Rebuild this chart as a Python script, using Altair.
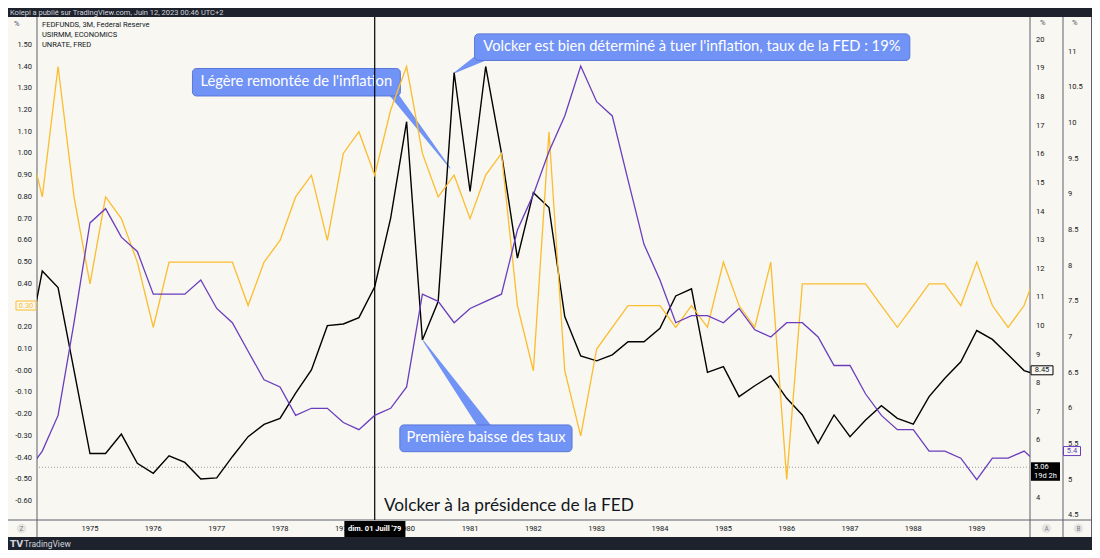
import altair as alt
import pandas as pd

# ---------------- data (quarterly, 1974Q1 .. 1990Q1) ----------------
dates = pd.date_range("1974-01-01", "1990-01-01", freq="QS").strftime("%Y-%m-%d").tolist()

fedfunds = [9.10, 11.92, 11.34, 8.45,
            5.54, 5.54, 6.22, 5.20,
            4.85, 5.46, 5.23, 4.65,
            4.69, 5.43, 6.13, 6.56,
            6.77, 7.65, 8.46, 10.01,
            10.07, 10.29, 11.37, 13.77,
            17.14, 9.51, 10.85, 18.86,
            14.70, 19.07, 16.04, 12.37,
            14.66, 14.14, 10.33, 8.95,
            8.78, 8.99, 9.45, 9.45,
            9.92, 11.05, 11.30, 8.38,
            8.58, 7.53, 7.91, 8.26,
            7.47, 6.89, 5.90, 6.89,
            6.13, 6.71, 7.21, 6.77,
            6.57, 7.53, 8.17, 8.75,
            9.84, 9.53, 8.99, 8.44,
            8.25]

usirmm = [1.10, 0.80, 1.40, 0.80,
          0.40, 0.80, 0.70, 0.50,
          0.20, 0.50, 0.50, 0.50,
          0.50, 0.50, 0.30, 0.50,
          0.60, 0.80, 0.90, 0.60,
          1.00, 1.10, 0.90, 1.20,
          1.40, 1.00, 0.80, 0.90,
          0.70, 0.90, 1.00, 0.30,
          0.00, 1.10, 0.00, -0.30,
          0.10, 0.20, 0.30, 0.30,
          0.30, 0.20, 0.30, 0.20,
          0.50, 0.30, 0.20, 0.50,
          -0.50, 0.40, 0.40, 0.40,
          0.40, 0.40, 0.30, 0.20,
          0.30, 0.40, 0.40, 0.30,
          0.50, 0.30, 0.20, 0.30,
          0.50]

unrate = [5.1, 5.4, 5.9, 7.2,
          8.6, 8.8, 8.4, 8.2,
          7.6, 7.6, 7.6, 7.8,
          7.4, 7.2, 6.8, 6.4,
          6.3, 5.9, 6.0, 6.0,
          5.8, 5.7, 5.9, 6.0,
          6.3, 7.6, 7.5, 7.2,
          7.4, 7.5, 7.6, 8.5,
          9.0, 9.6, 10.1, 10.8,
          10.3, 10.1, 9.2, 8.3,
          7.8, 7.2, 7.3, 7.3,
          7.2, 7.4, 7.1, 7.0,
          7.2, 7.2, 7.0, 6.6,
          6.6, 6.2, 5.9, 5.7,
          5.7, 5.4, 5.4, 5.3,
          5.0, 5.3, 5.3, 5.4,
          5.2]

# tick values and their labels (as printed on the chart)
left_ticks = [-0.6, -0.5, -0.4, -0.3, -0.2, -0.1, 0.0, 0.1, 0.2, 0.3, 0.4,
              0.5, 0.6, 0.7, 0.8, 0.9, 1.0, 1.1, 1.2, 1.3, 1.4, 1.5]
left_labels = ["-0.60", "-0.50", "-0.40", "-0.30", "-0.20", "-0.10", "-0.00", "0.10", "0.20",
               "0.30", "0.40", "0.50", "0.60", "0.70", "0.80", "0.90", "1.00", "1.10", "1.20",
               "1.30", "1.40", "1.50"]
fed_ticks = [4, 6, 7, 8, 9, 10, 11, 12, 13, 14, 15, 16, 17, 18, 19, 20]
fed_labels = ["4", "6", "7", "8", "9", "10", "11", "12", "13", "14", "15", "16", "17", "18", "19", "20"]
un_ticks = [4.5, 5, 5.5, 6, 6.5, 7, 7.5, 8, 8.5, 9, 9.5, 10, 10.5, 11]
un_labels = ["4.5", "5", "5.5", "6", "6.5", "7", "7.5", "8", "8.5", "9", "9.5", "10", "10.5", "11"]
year_ticks = ["1975-01-01", "1976-01-01", "1977-01-01", "1978-01-01", "1979-01-01", "1980-01-01",
              "1981-01-01", "1982-01-01", "1983-01-01", "1984-01-01", "1985-01-01", "1986-01-01",
              "1987-01-01", "1988-01-01", "1989-01-01"]
year_labels = ["1975", "1976", "1977", "1978", "1979", "1980", "1981", "1982", "1983", "1984",
               "1985", "1986", "1987", "1988", "1989"]

# annotations (anchored in time / FEDFUNDS scale)
call_x1 = ["1976-08-14", "1981-01-27", "1979-11-23"]
call_x2 = ["1979-11-26", "1987-12-12", "1982-08-12"]
call_y1 = [19.00, 20.21, 6.54]
call_y2 = [18.04, 19.28, 5.605]
call_tx = ["1978-04-05", "1984-07-03", "1981-04-03"]
call_ty = [18.53, 19.74, 6.07]
call_text = ["Légère remontée de l'inflation",
             "Volcker est bien déterminé à tuer l'inflation, taux de la FED : 19%",
             "Première baisse des taux"]
tail_id = ["a", "a", "b", "b", "c", "c"]
tail_date = ["1979-10-08", "1980-09-07", "1981-03-11", "1980-10-06", "1981-04-09", "1980-04-07"]
tail_val = [18.18, 15.52, 19.41, 18.86, 6.36, 9.475]
tail_w = [8, 1, 10, 1, 12, 1]
tail_o = [0, 1, 0, 1, 0, 1]

volcker_date = "1979-07-01"

df = pd.DataFrame({"date": dates, "fedfunds": fedfunds, "usirmm": usirmm, "unrate": unrate})
calls = pd.DataFrame({"x1": call_x1, "x2": call_x2, "y1": call_y1, "y2": call_y2})
call_lbl = pd.DataFrame({"d": call_tx, "v": call_ty, "t": call_text})
tails = pd.DataFrame({"id": tail_id, "d": tail_date, "v": tail_val, "w": tail_w, "o": tail_o})
vline = pd.DataFrame({"d": [volcker_date]})
ONE = pd.DataFrame({"k": [0]})

# ---------------- style ----------------
PANEL = "#f8f7f2"
DARK = "#1e222d"
SEP = "#5d606b"
YEL = "#fbbd2e"
PUR = "#6a3dbd"
BLK = "#131722"
CALL = "#7193f5"
CALL_S = "#5878d8"
FONT = "Lato"
AXF = "Roboto"
W, H = 993, 503

x_scale = alt.Scale(type="utc", domain=[alt.DateTime(year=1974, month=3, date=1, hours=12, utc=True),
                                        alt.DateTime(year=1989, month=11, date=4, utc=True)])
L_scale = alt.Scale(domain=[-0.687, 1.628], nice=False, zero=False)
A_scale = alt.Scale(domain=[3.217, 20.80], nice=False, zero=False)
B_scale = alt.Scale(domain=[4.433, 11.488], nice=False, zero=False)

X = alt.X("date:T", scale=x_scale, axis=None)


def label(s, x, y, size=7.5, color=BLK, align="left", font=AXF, weight="normal"):
    return alt.Chart(ONE).mark_text(text=s, fontSize=size, color=color, align=align,
                                    baseline="middle", font=font, fontWeight=weight).encode(
        x=alt.value(x), y=alt.value(y))


def rule(x1, y1, x2, y2, color=SEP, w=1):
    return alt.Chart(ONE).mark_rule(color=color, strokeWidth=w).encode(
        x=alt.value(x1), y=alt.value(y1), x2=alt.value(x2), y2=alt.value(y2))


def box(x1, y1, x2, y2, fill):
    return alt.Chart(ONE).mark_rect(fill=fill).encode(
        x=alt.value(x1), x2=alt.value(x2), y=alt.value(y1), y2=alt.value(y2))


def value_tag(scale, v, text, x1, x2, fill, stroke, tcolor, up=4.5, down=4.5):
    d = pd.DataFrame({"v": [v], "t": [text]})
    r = alt.Chart(d).mark_rect(fill=fill, stroke=stroke, strokeWidth=1, yOffset=-up, y2Offset=down).encode(
        x=alt.value(x1), x2=alt.value(x2), y=alt.Y("v:Q", scale=scale, axis=None), y2="v:Q")
    t = alt.Chart(d).mark_text(color=tcolor, fontSize=7.5, font=AXF, baseline="middle", align="center").encode(
        x=alt.value((x1 + x2) / 2), y=alt.Y("v:Q", scale=scale, axis=None), text="t:N")
    return r + t


def y_tick_labels(scale, ticks, labels, x, align):
    d = pd.DataFrame({"v": ticks, "t": labels})
    return alt.Chart(d).mark_text(fontSize=7.5, font=AXF, color=BLK, align=align, baseline="middle").encode(
        x=alt.value(x), y=alt.Y("v:Q", scale=scale, axis=None), text="t:N")


# ---------------- FEDFUNDS group (right scale A) ----------------
dotted = alt.Chart(pd.DataFrame({"v": [5.06]})).mark_rule(color="#9a9ca3", strokeDash=[1, 2]).encode(
    y=alt.Y("v:Q", scale=A_scale, axis=None))

tail_marks = alt.Chart(tails).mark_trail(color=CALL).encode(
    x=alt.X("d:T", scale=x_scale, axis=None),
    y=alt.Y("v:Q", scale=A_scale, axis=None),
    size=alt.Size("w:Q", scale=None, legend=None),
    detail="id:N", order="o:Q")

call_rects = alt.Chart(calls).mark_rect(fill=CALL, stroke=CALL_S, strokeWidth=1, cornerRadius=4).encode(
    x=alt.X("x1:T", scale=x_scale, axis=None), x2="x2:T",
    y=alt.Y("y1:Q", scale=A_scale, axis=None), y2="y2:Q")

call_texts = alt.Chart(call_lbl).mark_text(color="white", fontSize=14.7, font=FONT, baseline="middle",
                                           align="center").encode(
    x=alt.X("d:T", scale=x_scale, axis=None),
    y=alt.Y("v:Q", scale=A_scale, axis=None), text="t:N")

vrule = alt.Chart(vline).mark_rule(color="#000000", strokeWidth=1.2).encode(
    x=alt.X("d:T", scale=x_scale, axis=None))

year_lbls = alt.Chart(pd.DataFrame({"d": year_ticks, "t": year_labels})).mark_text(
    fontSize=7.5, font=AXF, color=BLK, align="center", baseline="middle").encode(
    x=alt.X("d:T", scale=x_scale, axis=None), y=alt.value(511.5), text="t:N")

date_box = alt.Chart(pd.DataFrame({"a": ["1979-01-07"], "b": ["1979-12-25"]})).mark_rect(fill="#000000").encode(
    x=alt.X("a:T", scale=x_scale, axis=None), x2="b:T", y=alt.value(504), y2=alt.value(520))
date_txt = alt.Chart(vline).mark_text(text="dim. 01 Juill '79", color="white", fontSize=7.5, font=AXF,
                                      fontWeight="bold", baseline="middle").encode(
    x=alt.X("d:T", scale=x_scale, axis=None), y=alt.value(512))

volcker_txt = alt.Chart(pd.DataFrame({"d": ["1979-08-23"], "v": [3.706]})).mark_text(
    text="Volcker à la présidence de la FED", color=BLK, fontSize=17.3, font=FONT, align="left",
    baseline="middle").encode(x=alt.X("d:T", scale=x_scale, axis=None),
                              y=alt.Y("v:Q", scale=A_scale, axis=None))

fed_line = alt.Chart(df).mark_line(color="#000000", strokeWidth=1.4, clip=True).encode(
    x=X, y=alt.Y("fedfunds:Q", scale=A_scale, axis=None))

tag845 = value_tag(A_scale, 8.45, "8.45", 994, 1016, PANEL, "#000000", BLK)
tag506_box = alt.Chart(pd.DataFrame({"v": [5.06]})).mark_rect(fill="#000000", yOffset=-5, y2Offset=13.5).encode(
    x=alt.value(994), x2=alt.value(1023), y=alt.Y("v:Q", scale=A_scale, axis=None), y2="v:Q")
tag506_t1 = alt.Chart(pd.DataFrame({"v": [5.06]})).mark_text(text="5.06", color="white", fontSize=7.5, font=AXF,
                                                            align="left", baseline="middle", dy=0).encode(
    x=alt.value(997), y=alt.Y("v:Q", scale=A_scale, axis=None))
tag506_t2 = alt.Chart(pd.DataFrame({"v": [5.06]})).mark_text(text="19d 2h", color="white", fontSize=7.5, font=AXF,
                                                            align="left", baseline="middle", dy=8.5).encode(
    x=alt.value(997), y=alt.Y("v:Q", scale=A_scale, axis=None))

decor = [
    box(-29, -9, 1055, 0, DARK),
    box(-29, 520, 1055, 533, DARK),
    rule(0, 0, 0, 520), rule(993, 0, 993, 520), rule(1026, 0, 1026, 520), rule(1054.5, 0, 1054.5, 520),
    rule(-29, 503, 1055, 503),
]

texts = [
    label("Kolepi a publié sur TradingView.com, Juin 12, 2023 00:46 UTC+2", -27, -4.5, size=7.5, color="#d1d4dc"),
    label("FEDFUNDS, 3M, Federal Reserve", 5, 8),
    label("USIRMM, ECONOMICS", 5, 17.7),
    label("UNRATE, FRED", 5, 27.7),
    label("%", -23, 7, color="#50535e"),
    label("%", 1003, 6, color="#50535e"),
    label("%", 1035, 6, color="#50535e"),
    alt.Chart(ONE).mark_point(filled=True, size=95, color="#e6e5e1", opacity=1).encode(
        x=alt.value(-15.5), y=alt.value(511.5)),
    alt.Chart(ONE).mark_point(filled=True, size=95, color="#e6e5e1", opacity=1).encode(
        x=alt.value(1009.5), y=alt.value(511.5)),
    alt.Chart(ONE).mark_point(filled=True, size=95, color="#e6e5e1", opacity=1).encode(
        x=alt.value(1041.5), y=alt.value(511.5)),
    label("Z", -15.5, 511.5, size=6.5, color="#787b86", align="center"),
    label("A", 1009.5, 511.5, size=6.5, color="#787b86", align="center"),
    label("B", 1041.5, 511.5, size=6.5, color="#787b86", align="center"),
    label("TV", -27, 527, size=9, color="#d1d4dc", weight="bold", font="DejaVu Sans"),
    label("TradingView", -13, 527, size=8.5, color="#d1d4dc"),
]

fed_group = alt.layer(*decor, dotted, tail_marks, call_rects, call_texts, vrule, year_lbls, date_box, date_txt,
                      volcker_txt, y_tick_labels(A_scale, fed_ticks, fed_labels, 999, "left"),
                      fed_line, tag845, tag506_box, tag506_t1, tag506_t2, *texts)

# ---------------- USIRMM group (left scale) ----------------
yel_line = alt.Chart(df).mark_line(color=YEL, strokeWidth=1.3, clip=True).encode(
    x=X, y=alt.Y("usirmm:Q", scale=L_scale, axis=None))
yel_group = alt.layer(y_tick_labels(L_scale, left_ticks, left_labels, -5, "right"), yel_line,
                      value_tag(L_scale, 0.30, "0.30", -21, -1, PANEL, YEL, YEL))

# ---------------- UNRATE group (right scale B) ----------------
pur_line = alt.Chart(df).mark_line(color=PUR, strokeWidth=1.3, clip=True).encode(
    x=X, y=alt.Y("unrate:Q", scale=B_scale, axis=None))
pur_group = alt.layer(y_tick_labels(B_scale, un_ticks, un_labels, 1031, "left"), pur_line,
                      value_tag(B_scale, 5.4, "5.4", 1026.5, 1043.5, PANEL, PUR, PUR))

chart = alt.layer(fed_group, yel_group, pur_group).resolve_scale(y="independent").properties(
    width=W, height=H,
    padding={"left": 29, "top": 9, "right": 62, "bottom": 30},
    autosize=alt.AutoSizeParams(type="none"),
).configure(background=PANEL).configure_view(stroke=None)

chart.save("out.html", embed_options={"renderer": "svg", "actions": False})
